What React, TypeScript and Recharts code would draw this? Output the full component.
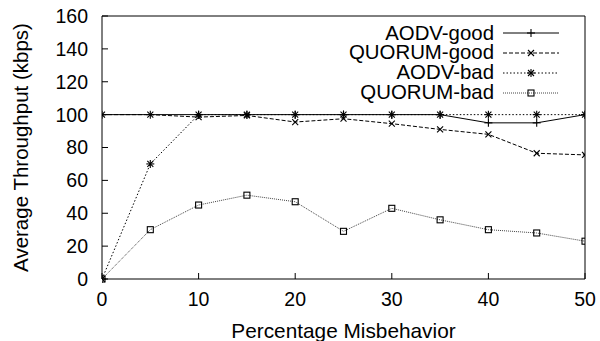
import React from "react";
import { LineChart, Line, XAxis, YAxis, Legend, Label } from "recharts";

const PCT = [0, 5, 10, 15, 20, 25, 30, 35, 40, 45, 50];
const AODV_GOOD = [100, 100, 100, 100, 100, 100, 100, 100, 95, 95, 100];
const QUORUM_GOOD = [100, 100, 98.5, 99.5, 95.5, 97.5, 94.5, 91, 88, 76.5, 75.5];
const AODV_BAD = [0, 70, 100, 100, 100, 100, 100, 100, 100, 100, 100];
const QUORUM_BAD = [0, 30, 45, 51, 47, 29, 43, 36, 30, 28, 23];

const X_TICKS = [0, 10, 20, 30, 40, 50];
const Y_TICKS = [0, 20, 40, 60, 80, 100, 120, 140, 160];

const FONT = "'Liberation Sans', Arial, Helvetica, sans-serif";

const rows = PCT.map((p, i) => ({
    pct: p,
    aodvGood: AODV_GOOD[i],
    quorumGood: QUORUM_GOOD[i],
    aodvBad: AODV_BAD[i],
    quorumBad: QUORUM_BAD[i],
}));

type Mark = "plus" | "cross" | "star" | "square";

function Marker({ cx, cy, kind }: { cx: number; cy: number; kind: Mark }) {
    const s = 4;
    const c = 3;
    const plus = (
        <>
            <line x1={cx - s} y1={cy} x2={cx + s} y2={cy} />
            <line x1={cx} y1={cy - s} x2={cx} y2={cy + s} />
        </>
    );
    const cross = (
        <>
            <line x1={cx - c} y1={cy - c} x2={cx + c} y2={cy + c} />
            <line x1={cx - c} y1={cy + c} x2={cx + c} y2={cy - c} />
        </>
    );
    return (
        <g stroke="#000" strokeWidth={1.1} fill="none">
            {kind === "plus" && plus}
            {kind === "cross" && cross}
            {kind === "star" && (
                <>
                    {plus}
                    {cross}
                </>
            )}
            {kind === "square" && <rect x={cx - 3} y={cy - 3} width={6} height={6} />}
        </g>
    );
}

const SERIES = [
    { key: "aodvGood", name: "AODV-good", dash: undefined, mark: "plus" as Mark, color: "#000" },
    { key: "quorumGood", name: "QUORUM-good", dash: "4 2", mark: "cross" as Mark, color: "#000" },
    { key: "aodvBad", name: "AODV-bad", dash: "1.5 2", mark: "star" as Mark, color: "#000" },
    { key: "quorumBad", name: "QUORUM-bad", dash: "1 1", mark: "square" as Mark, color: "#444" },
];

function LegendBox() {
    return (
        <div style={{ fontFamily: FONT, fontSize: 20.4, color: "#000" }}>
            {SERIES.map((s) => (
                <div
                    key={s.key}
                    style={{ display: "flex", justifyContent: "flex-end", alignItems: "center", height: 19.8, lineHeight: "19.8px" }}
                >
                    <span>{s.name}</span>
                    <svg width={56} height={12} style={{ marginLeft: 9 }}>
                        <line x1={0} y1={6} x2={56} y2={6} stroke={s.color} strokeWidth={1} strokeDasharray={s.dash} />
                        <Marker cx={28} cy={6} kind={s.mark} />
                    </svg>
                </div>
            ))}
        </div>
    );
}

function YTitle(props: any) {
    const vb = props.viewBox || {};
    const cy = (vb.y ?? 16) + (vb.height ?? 263) / 2;
    return (
        <text
            x={28}
            y={cy}
            transform={`rotate(-90, 28, ${cy})`}
            textAnchor="middle"
            fontFamily={FONT}
            fontSize={20.5}
            fill="#000"
        >
            Average Throughput (kbps)
        </text>
    );
}

function XTitle(props: any) {
    const vb = props.viewBox || {};
    const cx = (vb.x ?? 102) + (vb.width ?? 483) / 2;
    return (
        <text x={cx} y={338} textAnchor="middle" fontFamily={FONT} fontSize={20.8} fill="#000">
            Percentage Misbehavior
        </text>
    );
}

const tickStyle = { fontFamily: FONT, fontSize: 19.5, fill: "#000" };

export default function App() {
    return (
        <div style={{ position: "absolute", left: 0, top: 0, background: "#fff" }}>
            <LineChart width={600} height={341} data={rows} margin={{ top: 0, right: 0, bottom: 0, left: 0 }}>
                <XAxis
                    xAxisId="b"
                    dataKey="pct"
                    type="number"
                    domain={[0, 50]}
                    ticks={X_TICKS}
                    height={62}
                    stroke="#000"
                    tickSize={-6}
                    tickMargin={19.5}
                    tick={tickStyle}
                    allowDataOverflow
                >
                    <Label content={XTitle} />
                </XAxis>
                <XAxis
                    xAxisId="t"
                    orientation="top"
                    dataKey="pct"
                    type="number"
                    domain={[0, 50]}
                    ticks={X_TICKS}
                    height={16}
                    stroke="#000"
                    tickSize={-6}
                    tick={false}
                />
                <YAxis
                    yAxisId="l"
                    type="number"
                    domain={[0, 160]}
                    ticks={Y_TICKS}
                    width={102}
                    stroke="#000"
                    tickSize={-6}
                    tickMargin={20}
                    tick={tickStyle}
                >
                    <Label content={YTitle} />
                </YAxis>
                <YAxis
                    yAxisId="r"
                    orientation="right"
                    type="number"
                    domain={[0, 160]}
                    ticks={Y_TICKS}
                    width={15}
                    stroke="#000"
                    tickSize={-6}
                    tick={false}
                />
                <Legend
                    layout="horizontal"
                    verticalAlign="middle"
                    align="center"
                    content={LegendBox}
                    wrapperStyle={{ left: 300, top: 23.5, width: 259, height: 80 }}
                />
                {SERIES.map((s) => (
                    <Line
                        key={s.key}
                        xAxisId="b"
                        yAxisId="l"
                        type="linear"
                        dataKey={s.key}
                        name={s.name}
                        stroke={s.color}
                        strokeWidth={1}
                        strokeDasharray={s.dash}
                        isAnimationActive={false}
                        dot={(p: any) => <Marker key={`${s.key}-${p.index}`} cx={p.cx} cy={p.cy} kind={s.mark} />}
                        activeDot={false}
                    />
                ))}
            </LineChart>
        </div>
    );
}
